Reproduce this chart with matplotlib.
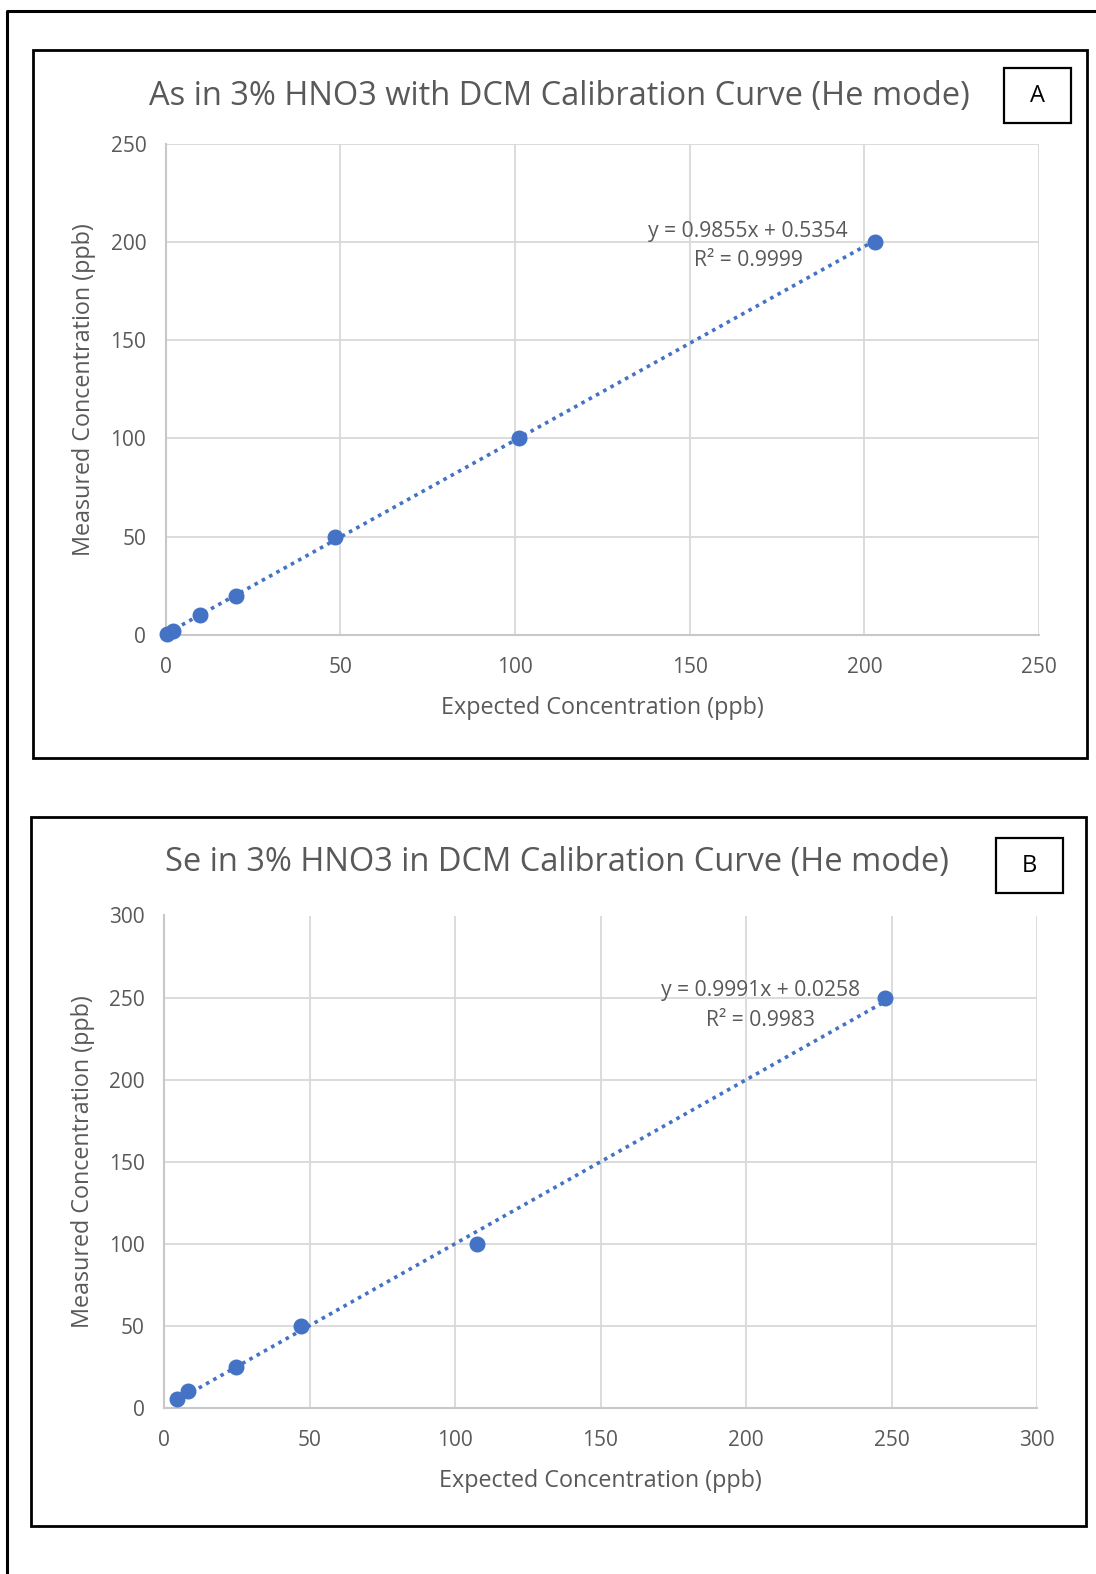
import matplotlib
matplotlib.use("Agg")
import matplotlib.pyplot as plt
from matplotlib.patches import Rectangle
from matplotlib.lines import Line2D

plt.rcParams['font.family'] = ['Open Sans', 'DejaVu Sans']

# panel A: As
as_expected = [0.5, 2, 9.7, 20.1, 48.6, 101, 203]
as_measured = [0.5, 2, 10, 20, 50, 100, 200]
as_fit = (0.9855, 0.5354, 0.9999)
as_title = "As in 3% HNO3 with DCM Calibration Curve (He mode)"
as_ticks = [0, 50, 100, 150, 200, 250]

# panel B: Se
se_expected = [4.5, 8.2, 24.8, 47.2, 107.6, 247.6]
se_measured = [5, 10, 25, 50, 100, 250]
se_fit = (0.9991, 0.0258, 0.9983)
se_title = "Se in 3% HNO3 in DCM Calibration Curve (He mode)"
se_ticks = [0, 50, 100, 150, 200, 250, 300]

W, H = 1096, 1574
TXT = "#595959"
BLUE = "#4472c4"
GRID = "#d9d9d9"

fig = plt.figure(figsize=(W / 100, H / 100), dpi=100)


def fx(x):
    return x / W


def fy(y):
    return 1 - y / H


def rect(x0, y0, x1, y1, lw=2.0):
    fig.patches.append(Rectangle((fx(x0), fy(y1)), fx(x1) - fx(x0), fy(y0) - fy(y1),
                                 transform=fig.transFigure, fill=False,
                                 edgecolor="black", linewidth=lw))


# outer page frame (only left and top edges visible)
fig.lines.append(Line2D([fx(7), fx(7), fx(W + 5)], [0, fy(11), fy(11)],
                        transform=fig.transFigure, color="black", linewidth=2.2))

# panel frames
rect(33, 50, 1087, 758)
rect(31, 817, 1086, 1526)


def panel(box, xs, ys, fit, ticks, title, title_xy, label, label_box, eq_xy):
    ax = fig.add_axes(box)
    lo, hi = ticks[0], ticks[-1]
    ax.set_xlim(lo, hi)
    ax.set_ylim(lo, hi)
    ax.set_xticks(ticks)
    ax.set_yticks(ticks)
    ax.grid(True, color=GRID, linewidth=1.3)
    ax.set_axisbelow(True)
    for side in ["top", "right"]:
        ax.spines[side].set_visible(False)
    for side in ["left", "bottom"]:
        ax.spines[side].set_color("#c8c8c8")
        ax.spines[side].set_linewidth(1.5)
    ax.tick_params(length=0, pad=14, labelsize=15, labelcolor=TXT)
    ax.tick_params(axis="x", pad=16)
    ax.set_xlabel("Expected Concentration (ppb)", fontsize=16.8, color=TXT, labelpad=13)
    ax.set_ylabel("Measured Concentration (ppb)", fontsize=16.8, color=TXT, labelpad=10)

    slope, icpt, r2 = fit
    x0, x1 = min(xs), max(xs)
    ax.plot([x0, x1], [slope * x0 + icpt, slope * x1 + icpt], linestyle=(0, (1, 1.3)),
            color=BLUE, linewidth=2.6, zorder=2)
    ax.plot(xs, ys, "o", color=BLUE, markersize=10.5, zorder=3, clip_on=False)

    fig.text(fx(eq_xy[0]), fy(eq_xy[1]), f"y = {slope:.4f}x + {icpt:.4f}",
             ha="center", va="center", fontsize=15.2, color=TXT)
    fig.text(fx(eq_xy[0]), fy(eq_xy[1] + 29), f"R² = {r2:.4f}",
             ha="center", va="center", fontsize=15.2, color=TXT)

    fig.text(fx(title_xy[0]), fy(title_xy[1]), title, ha="center", va="center",
             fontsize=23.5, color=TXT)
    bx0, by0, bx1, by1 = label_box
    rect(bx0, by0, bx1, by1, lw=1.6)
    fig.text(fx((bx0 + bx1) / 2), fy((by0 + by1) / 2), label, ha="center", va="center",
             fontsize=17, color="black")
    return ax


panel([fx(165.7), fy(635), fx(1039) - fx(165.7), fy(143.5) - fy(635)],
      as_expected, as_measured, as_fit, as_ticks, as_title, (559, 96), "A",
      (1004, 68, 1071, 123), (748, 231))

panel([fx(164), fy(1407.7), fx(1037) - fx(164), fy(915.5) - fy(1407.7)],
      se_expected, se_measured, se_fit, se_ticks, se_title, (557, 863), "B",
      (996, 838, 1063, 893), (761, 991))

fig.savefig("out.png", dpi=100)
